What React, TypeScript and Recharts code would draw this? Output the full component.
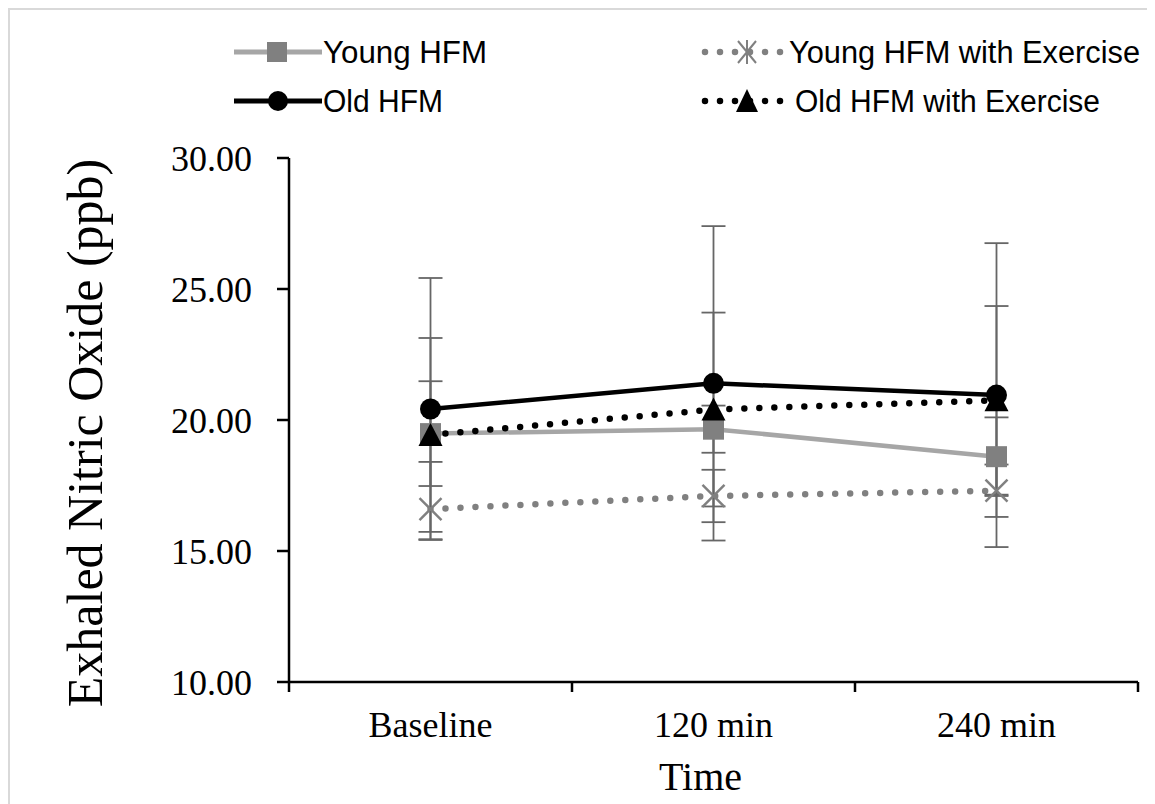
import React from 'react';
import { LineChart, Line, XAxis, YAxis, ErrorBar } from 'recharts';

const categories = ['Baseline', '120 min', '240 min'];
const yTicks = [10, 15, 20, 25, 30];
const youngHFM = [19.48, 19.65, 18.6];
const youngHFMErr = [2.0, 0.9, 1.5];
const youngEx = [16.6, 17.1, 17.3];
const youngExErr: [number, number][] = [[1.15, 1.8], [1.0, 1.0], [1.0, 1.0]];
const oldHFM = [20.42, 21.4, 20.95];
const oldHFMErr = [5.0, 6.0, 5.8];
const oldEx = [19.43, 20.4, 20.75];
const oldExErr = [3.7, 3.7, 3.6];

const data = categories.map((c, i) => ({
  x: i + 0.5,
  name: c,
  youngHFM: youngHFM[i],
  youngHFMErr: youngHFMErr[i],
  youngEx: youngEx[i],
  youngExErr: youngExErr[i],
  oldHFM: oldHFM[i],
  oldHFMErr: oldHFMErr[i],
  oldEx: oldEx[i],
  oldExErr: oldExErr[i],
}));

const SERIF = "'Liberation Serif', 'Times New Roman', serif";
const SANS = "'Liberation Sans Narrow', 'Liberation Sans', 'DejaVu Sans', sans-serif";
const ERR = '#666666';

const Square = (p: any) => (
  <rect key={`sq-${p.index}`} x={p.cx - 10.5} y={p.cy - 10.5} width={21} height={21} fill="#808080" />
);
const Circ = (p: any) => <circle key={`ci-${p.index}`} cx={p.cx} cy={p.cy} r={10.5} fill="#000" />;
const Tri = (p: any) => (
  <polygon
    key={`tr-${p.index}`}
    points={`${p.cx},${p.cy - 12} ${p.cx - 12},${p.cy + 11} ${p.cx + 12},${p.cy + 11}`}
    fill="#000"
  />
);
const XMark = (p: any) => (
  <g key={`xm-${p.index}`} stroke="#808080" strokeWidth={2.5}>
    <line x1={p.cx - 11} y1={p.cy - 11} x2={p.cx + 11} y2={p.cy + 11} />
    <line x1={p.cx - 11} y1={p.cy + 11} x2={p.cx + 11} y2={p.cy - 11} />
  </g>
);

const XTick = (props: any) => {
  const { x, y, payload } = props;
  const v = payload.value;
  if (Number.isInteger(v)) {
    return <line x1={x} x2={x} y1={y - 29} y2={y - 19} stroke="#000" strokeWidth={2.5} />;
  }
  const idx = Math.floor(v);
  return (
    <text x={x} y={y} dy="0.71em" textAnchor="middle" fontFamily={SERIF} fontSize={36} fill="#000">
      {categories[idx]}
    </text>
  );
};

const YLabel = (props: any) => {
  const vb = props.viewBox;
  const cx = vb.x - 67;
  const cy = vb.y + vb.height / 2 + 13;
  return (
    <text
      x={cx}
      y={cy}
      transform={`rotate(-90 ${cx} ${cy})`}
      textAnchor="middle"
      fontFamily={SERIF}
      fontSize={50}
      fill="#000"
    >
      Exhaled Nitric Oxide (ppb)
    </text>
  );
};

const XLabel = (props: any) => {
  const vb = props.viewBox;
  const cx = vb.x + vb.width / 2 - 13;
  const cy = 782;
  return (
    <text x={cx} y={cy} textAnchor="middle" fontFamily={SERIF} fontSize={40} fill="#000">
      Time
    </text>
  );
};

const LegendOverlay = () => (
  <svg width={1147} height={140} style={{ position: 'absolute', left: 0, top: 0, pointerEvents: 'none' }}>
    {/* Young HFM */}
    <line x1={226} x2={314} y1={44} y2={44} stroke="#A6A6A6" strokeWidth={5} />
    <rect x={259} y={34} width={20} height={20} fill="#808080" />
    <text x={315} y={44} dominantBaseline="central" fontFamily={SANS} fontSize={31} textLength={164} lengthAdjust="spacingAndGlyphs">Young HFM</text>
    {/* Old HFM */}
    <line x1={226} x2={314} y1={93} y2={93} stroke="#000" strokeWidth={5} />
    <circle cx={270} cy={93} r={10} fill="#000" />
    <text x={315} y={93} dominantBaseline="central" fontFamily={SANS} fontSize={31} textLength={120} lengthAdjust="spacingAndGlyphs">Old HFM</text>
    {/* Young HFM with Exercise */}
    <line x1={697} x2={775} y1={44} y2={44} stroke="#808080" strokeWidth={6.5} strokeDasharray="0 15" strokeLinecap="round" />
    <g stroke="#808080" strokeWidth={2}>
      <line x1={730} y1={33} x2={748} y2={55} />
      <line x1={730} y1={55} x2={748} y2={33} />
      <line x1={739} y1={32} x2={739} y2={56} />
    </g>
    <text x={781} y={44} dominantBaseline="central" fontFamily={SANS} fontSize={31} textLength={351} lengthAdjust="spacingAndGlyphs">Young HFM with Exercise</text>
    {/* Old HFM with Exercise */}
    <line x1={697} x2={775} y1={93} y2={93} stroke="#000" strokeWidth={6.5} strokeDasharray="0 15" strokeLinecap="round" />
    <polygon points="739,81 728,104 750,104" fill="#000" />
    <text x={787} y={93} dominantBaseline="central" fontFamily={SANS} fontSize={31} textLength={305} lengthAdjust="spacingAndGlyphs">Old HFM with Exercise</text>
  </svg>
);

if (typeof document !== 'undefined') {
  document.body.style.overflow = 'hidden';
}

export default function App() {
  return (
    <div style={{ position: 'relative', width: 1147, height: 796, overflow: 'hidden', background: '#fff' }}>
      <div
        style={{
          position: 'absolute',
          left: 0,
          top: 0,
          width: 1300,
          height: 1000,
          border: '2px solid #d9d9d9',
          boxSizing: 'border-box',
        }}
      />
      <LineChart
        width={1147}
        height={796}
        data={data}
        margin={{ top: 150, right: 17, left: 161, bottom: 62 }}
        style={{ position: 'absolute', left: 0, top: 0 }}
      >
        <XAxis
          dataKey="x"
          type="number"
          domain={[0, 3]}
          ticks={[0, 0.5, 1, 1.5, 2, 2.5, 3]}
          interval={0}
          tick={<XTick />}
          tickLine={false}
          tickSize={10}
          tickMargin={19}
          height={60}
          axisLine={{ stroke: '#000', strokeWidth: 2.5 }}
          label={<XLabel />}
        />
        <YAxis
          type="number"
          domain={[10, 30]}
          ticks={yTicks}
          interval={0}
          width={120}
          tickFormatter={(v: number) => v.toFixed(2)}
          tick={{ fontFamily: SERIF, fontSize: 36, fill: '#000' }}
          tickSize={12}
          tickMargin={25}
          tickLine={{ stroke: '#000', strokeWidth: 2.5 }}
          axisLine={{ stroke: '#000', strokeWidth: 2.5 }}
          label={<YLabel />}
        />
        <Line
          dataKey="youngHFM"
          stroke="#A6A6A6"
          strokeWidth={4.5}
          dot={Square}
          activeDot={false}
          isAnimationActive={false}
        >
          <ErrorBar dataKey="youngHFMErr" direction="y" width={12} stroke={ERR} strokeWidth={1.8} />
        </Line>
        <Line
          dataKey="youngEx"
          stroke="#808080"
          strokeWidth={6.5}
          strokeDasharray="0 15"
          strokeLinecap="round"
          dot={XMark}
          activeDot={false}
          isAnimationActive={false}
        >
          <ErrorBar dataKey="youngExErr" direction="y" width={12} stroke={ERR} strokeWidth={1.8} />
        </Line>
        <Line
          dataKey="oldHFM"
          stroke="#000"
          strokeWidth={4.5}
          dot={Circ}
          activeDot={false}
          isAnimationActive={false}
        >
          <ErrorBar dataKey="oldHFMErr" direction="y" width={12} stroke={ERR} strokeWidth={1.8} />
        </Line>
        <Line
          dataKey="oldEx"
          stroke="#000"
          strokeWidth={6.5}
          strokeDasharray="0 15"
          strokeLinecap="round"
          dot={Tri}
          activeDot={false}
          isAnimationActive={false}
        >
          <ErrorBar dataKey="oldExErr" direction="y" width={12} stroke={ERR} strokeWidth={1.8} />
        </Line>
      </LineChart>
      <LegendOverlay />
    </div>
  );
}
